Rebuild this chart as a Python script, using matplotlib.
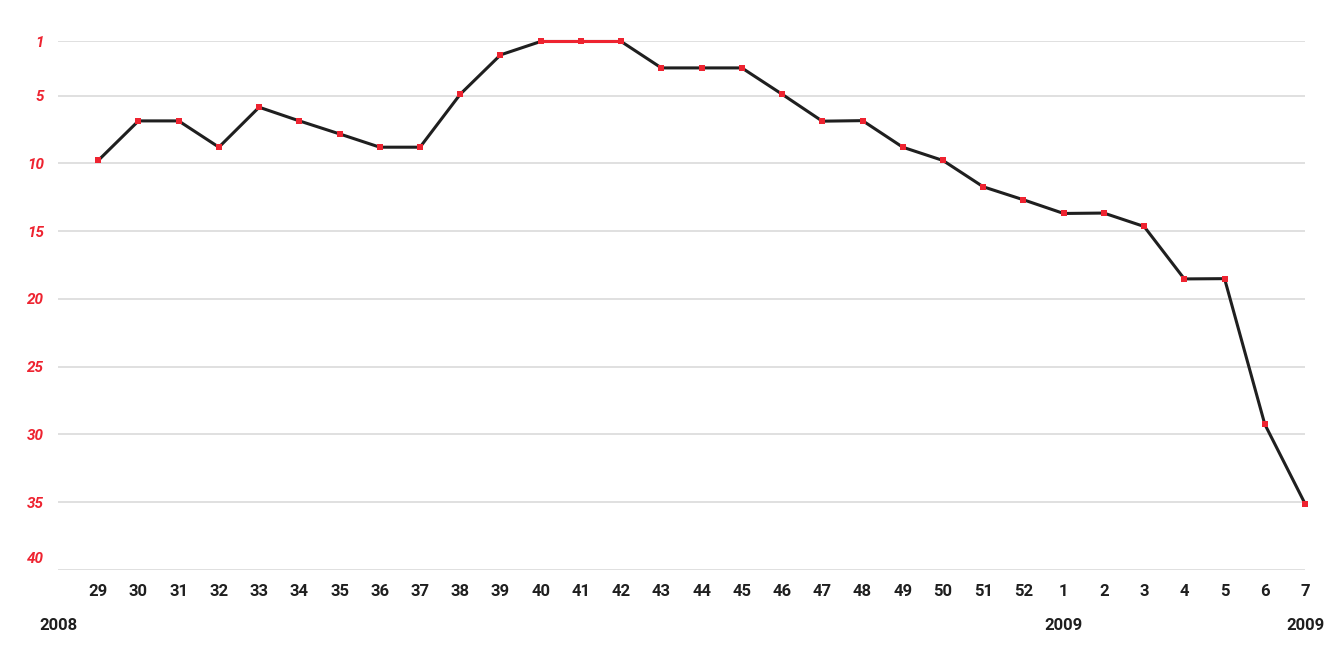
import matplotlib
matplotlib.use("Agg")
import matplotlib.pyplot as plt
import matplotlib.transforms as mtransforms

# chart position per week (rank, 1 = top)
weeks = ["29", "30", "31", "32", "33", "34", "35", "36", "37", "38", "39", "40",
         "41", "42", "43", "44", "45", "46", "47", "48", "49", "50", "51", "52",
         "1", "2", "3", "4", "5", "6", "7"]
positions = [9.78, 6.86, 6.86, 8.80, 5.85, 6.86, 7.82, 8.80, 8.80, 4.89, 1.99, 1.0,
             1.0, 1.0, 2.95, 2.95, 2.95, 4.89, 6.88, 6.84, 8.80, 9.78, 11.72, 12.68,
             13.69, 13.66, 14.65, 18.52, 18.50, 29.24, 35.10]
y_ticks = [1, 5, 10, 15, 20, 25, 30, 35, 40]
year_labels = [(-1, "2008"), (24, "2009"), (30, "2009")]

RED = "#ee2330"
DARK = "#1f1f1f"
GRID = "#e0e0e0"
FONT = ["Roboto", "DejaVu Sans"]

fig = plt.figure(figsize=(13.33, 6.67), dpi=100)
ax = fig.add_axes([0.0435, 0.1454, 0.9355, 0.7924])

x = list(range(len(weeks)))

# horizontal gridlines
for t in y_ticks:
    ax.axhline(t, color=GRID, linewidth=1.4, zorder=0)

ax.plot(x, positions, color=DARK, linewidth=2.2, solid_joinstyle="round", zorder=2, clip_on=False)

# segments held at number one drawn in red
for i in range(len(positions) - 1):
    if positions[i] == 1 and positions[i + 1] == 1:
        ax.plot(x[i:i + 2], positions[i:i + 2], color=RED, linewidth=2.2, zorder=3, clip_on=False)

ax.plot(x, positions, linestyle="none", marker="s", markersize=5,
        markerfacecolor=RED, markeredgewidth=0, zorder=4, clip_on=False)

ax.set_xlim(-1, 30)
ax.set_ylim(40, 1)

for s in ax.spines.values():
    s.set_visible(False)

ax.set_xticks(x)
ax.set_xticklabels(weeks, family=FONT, fontweight="bold", fontsize=12, color=DARK)
ax.set_yticks(y_ticks)
ax.set_yticklabels([str(t) for t in y_ticks], family=FONT, fontweight="bold",
                   fontstyle="italic", fontsize=11, color=RED)
ax.tick_params(axis="x", length=0, pad=10)
ax.tick_params(axis="y", length=0, pad=10)

# bottom label sits a little above its line
lbl = ax.get_yticklabels()[-1]
lbl.set_transform(lbl.get_transform() + mtransforms.ScaledTranslation(0, 13 / 100, fig.dpi_scale_trans))

for xi, txt in year_labels:
    ax.annotate(txt, xy=(xi, 0), xycoords=("data", "axes fraction"),
                xytext=(0, -55), textcoords="offset pixels", ha="center", va="center",
                family=FONT, fontweight="bold", fontsize=12, color=DARK)

fig.savefig("out.png", dpi=100, facecolor="white")
